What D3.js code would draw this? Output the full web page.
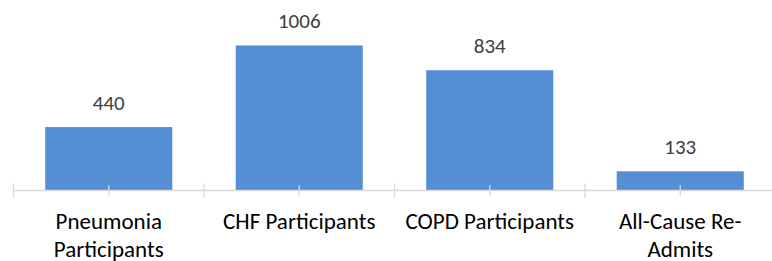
<!DOCTYPE html>
<html>
<head>
<meta charset="utf-8">
<script src="https://cdn.jsdelivr.net/npm/d3@7"></script>
<style>
    body { margin: 0; background: #fff; }
    text { font-family: Carlito, Calibri, Lato, sans-serif; }
</style>
</head>
<body>
<div id="chart-area"></div>
<script>
// DATA
// =================
var categories = ['Pneumonia Participants', 'CHF Participants', 'COPD Participants', 'All-Cause Re-Admits'];
var labelLines = [['Pneumonia', 'Participants'], ['CHF Participants'], ['COPD Participants'], ['All-Cause Re-', 'Admits']];
var values = [440, 1006, 834, 133];

// CANVAS
// =================
var width = 772, height = 261, axisY = 190.5;

var svg = d3.select('#chart-area')
    .append('svg')
        .attr('width', width)
        .attr('height', height);

var x = d3.scaleBand()
    .domain(categories)
    .range([13.5, 775.5])
    .paddingInner(0.333)
    .paddingOuter(0.1665);

var y = d3.scaleLinear()
    .domain([0, 1200])
    .range([axisY, 17.5]);

// BARS
svg.selectAll('rect.bar')
    .data(values)
    .enter()
    .append('rect')
        .attr('class', 'bar')
        .attr('x', (d, i) => x(categories[i]))
        .attr('y', d => y(d))
        .attr('width', x.bandwidth())
        .attr('height', d => y(0) - y(d))
        .attr('fill', '#558ed5');

// AXIS
var step = x.step();
var x0 = x.range()[0];
var axis = svg.append('g').attr('stroke', '#d9d9d9').attr('stroke-width', 1.3);

axis.append('line')
    .attr('x1', x0).attr('x2', x.range()[1])
    .attr('y1', axisY).attr('y2', axisY);

// category boundaries
axis.selectAll('line.major')
    .data(d3.range(categories.length + 1))
    .enter()
    .append('line')
        .attr('class', 'major')
        .attr('x1', i => x0 + i * step).attr('x2', i => x0 + i * step)
        .attr('y1', axisY - 7).attr('y2', axisY + 7.5);

// category centers
axis.selectAll('line.minor')
    .data(categories)
    .enter()
    .append('line')
        .attr('class', 'minor')
        .attr('x1', d => x(d) + x.bandwidth() / 2).attr('x2', d => x(d) + x.bandwidth() / 2)
        .attr('y1', axisY - 5.5).attr('y2', axisY + 5.5);

// VALUE LABELS
svg.selectAll('text.value')
    .data(values)
    .enter()
    .append('text')
        .attr('class', 'value')
        .attr('x', (d, i) => x(categories[i]) + x.bandwidth() / 2)
        .attr('y', d => y(d) - 17.5)
        .attr('text-anchor', 'middle')
        .attr('font-size', '21px')
        .attr('fill', '#404040')
        .text(d => d);

// CATEGORY LABELS
var labels = svg.selectAll('text.cat')
    .data(categories)
    .enter()
    .append('text')
        .attr('class', 'cat')
        .attr('text-anchor', 'middle')
        .attr('font-size', '23px')
        .attr('fill', '#000');

labels.selectAll('tspan')
    .data((d, i) => labelLines[i].map(t => ({ t: t, c: d })))
    .enter()
    .append('tspan')
        .attr('x', d => x(d.c) + x.bandwidth() / 2)
        .attr('y', (d, j) => 228.5 + j * 28)
        .text(d => d.t);
</script>
</body>
</html>
